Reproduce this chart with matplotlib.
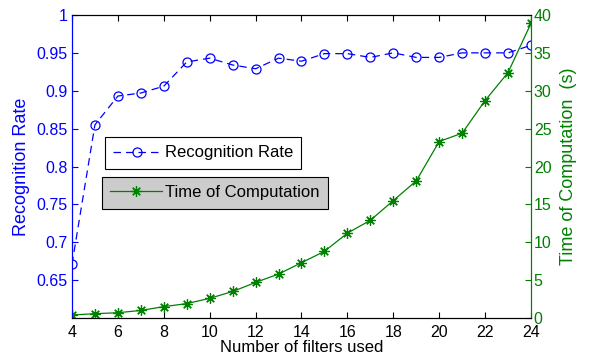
import matplotlib
matplotlib.use("Agg")
import matplotlib.pyplot as plt

plt.rcParams['font.family'] = ['Liberation Sans', 'DejaVu Sans']

filters = [4, 5, 6, 7, 8, 9, 10, 11, 12, 13, 14, 15, 16, 17, 18, 19, 20, 21, 22, 23, 24]
recognition_rate = [0.671, 0.855, 0.893, 0.897, 0.906, 0.938, 0.943, 0.934, 0.929, 0.943,
                    0.939, 0.949, 0.949, 0.944, 0.950, 0.944, 0.944, 0.950, 0.950, 0.950, 0.960]
comp_time = [0.4, 0.57, 0.7, 1.0, 1.5, 1.9, 2.6, 3.5, 4.7, 5.8,
             7.3, 8.8, 11.2, 12.9, 15.5, 18.1, 23.3, 24.4, 28.7, 32.4, 38.9]

x_ticks = [4, 6, 8, 10, 12, 14, 16, 18, 20, 22, 24]
rate_ticks = [0.65, 0.7, 0.75, 0.8, 0.85, 0.9, 0.95, 1]
rate_labels = ['0.65', '0.7', '0.75', '0.8', '0.85', '0.9', '0.95', '1']
time_ticks = [0, 5, 10, 15, 20, 25, 30, 35, 40]

BLUE = '#0000ff'
GREEN = '#008000'
FS = 12
TFS = 11.5
ASTERISK = (8, 2, 0)  # matlab-style '*' marker

fig = plt.figure(figsize=(5.89, 3.56), dpi=100)
ax = fig.add_axes([0.1222, 0.1067, 0.7793, 0.8512])
ax2 = ax.twinx()

l1, = ax.plot(filters, recognition_rate, color=BLUE, linestyle=(0, (6, 4)), linewidth=0.9,
              marker='o', markersize=6.5, markerfacecolor='none', markeredgecolor=BLUE,
              markeredgewidth=0.9, label='Recognition Rate')
l2, = ax2.plot(filters, comp_time, color=GREEN, linewidth=0.9, marker=ASTERISK, markersize=7.5,
               markeredgewidth=0.9, label='Time of Computation')

ax.set_xlim(4, 24)
ax.set_ylim(0.6, 1)
ax2.set_ylim(0, 40)
ax.set_xticks(x_ticks)
ax.set_yticks(rate_ticks)
ax.set_yticklabels(rate_labels)
ax2.set_yticks(time_ticks)

ax.tick_params(axis='x', direction='in', length=4, labelsize=TFS, top=True, pad=5)
ax.tick_params(axis='y', direction='in', length=4, labelsize=TFS, colors=BLUE, pad=3)
ax2.tick_params(axis='y', direction='in', length=4, labelsize=TFS, colors=GREEN, pad=2)

ax.spines['left'].set_color(BLUE)
ax2.spines['left'].set_color(BLUE)
ax2.spines['right'].set_color(GREEN)
ax.spines['right'].set_color(GREEN)

ax.set_xlabel('Number of filters used', fontsize=FS, labelpad=0)
ax.set_ylabel('Recognition Rate', fontsize=FS + 1, color=BLUE, labelpad=5)
ax2.set_ylabel('Time of Computation  (s)', fontsize=FS + 1, color=GREEN, labelpad=6)

leg1 = fig.legend(handles=[l1], loc='upper left', bbox_to_anchor=(0.178, 0.615),
                  fontsize=FS, fancybox=False, edgecolor='black', framealpha=1,
                  handlelength=2.9, borderpad=0.5, handletextpad=0.2, borderaxespad=0)
leg1.get_frame().set_linewidth(0.8)
leg2 = fig.legend(handles=[l2], loc='upper left', bbox_to_anchor=(0.173, 0.503),
                  fontsize=FS, fancybox=False, edgecolor='black', framealpha=1,
                  facecolor='#cccccc', handlelength=3.1, borderpad=0.5, handletextpad=0.2,
                  borderaxespad=0)
leg2.get_frame().set_linewidth(0.8)

fig.savefig('out.png', dpi=100)
